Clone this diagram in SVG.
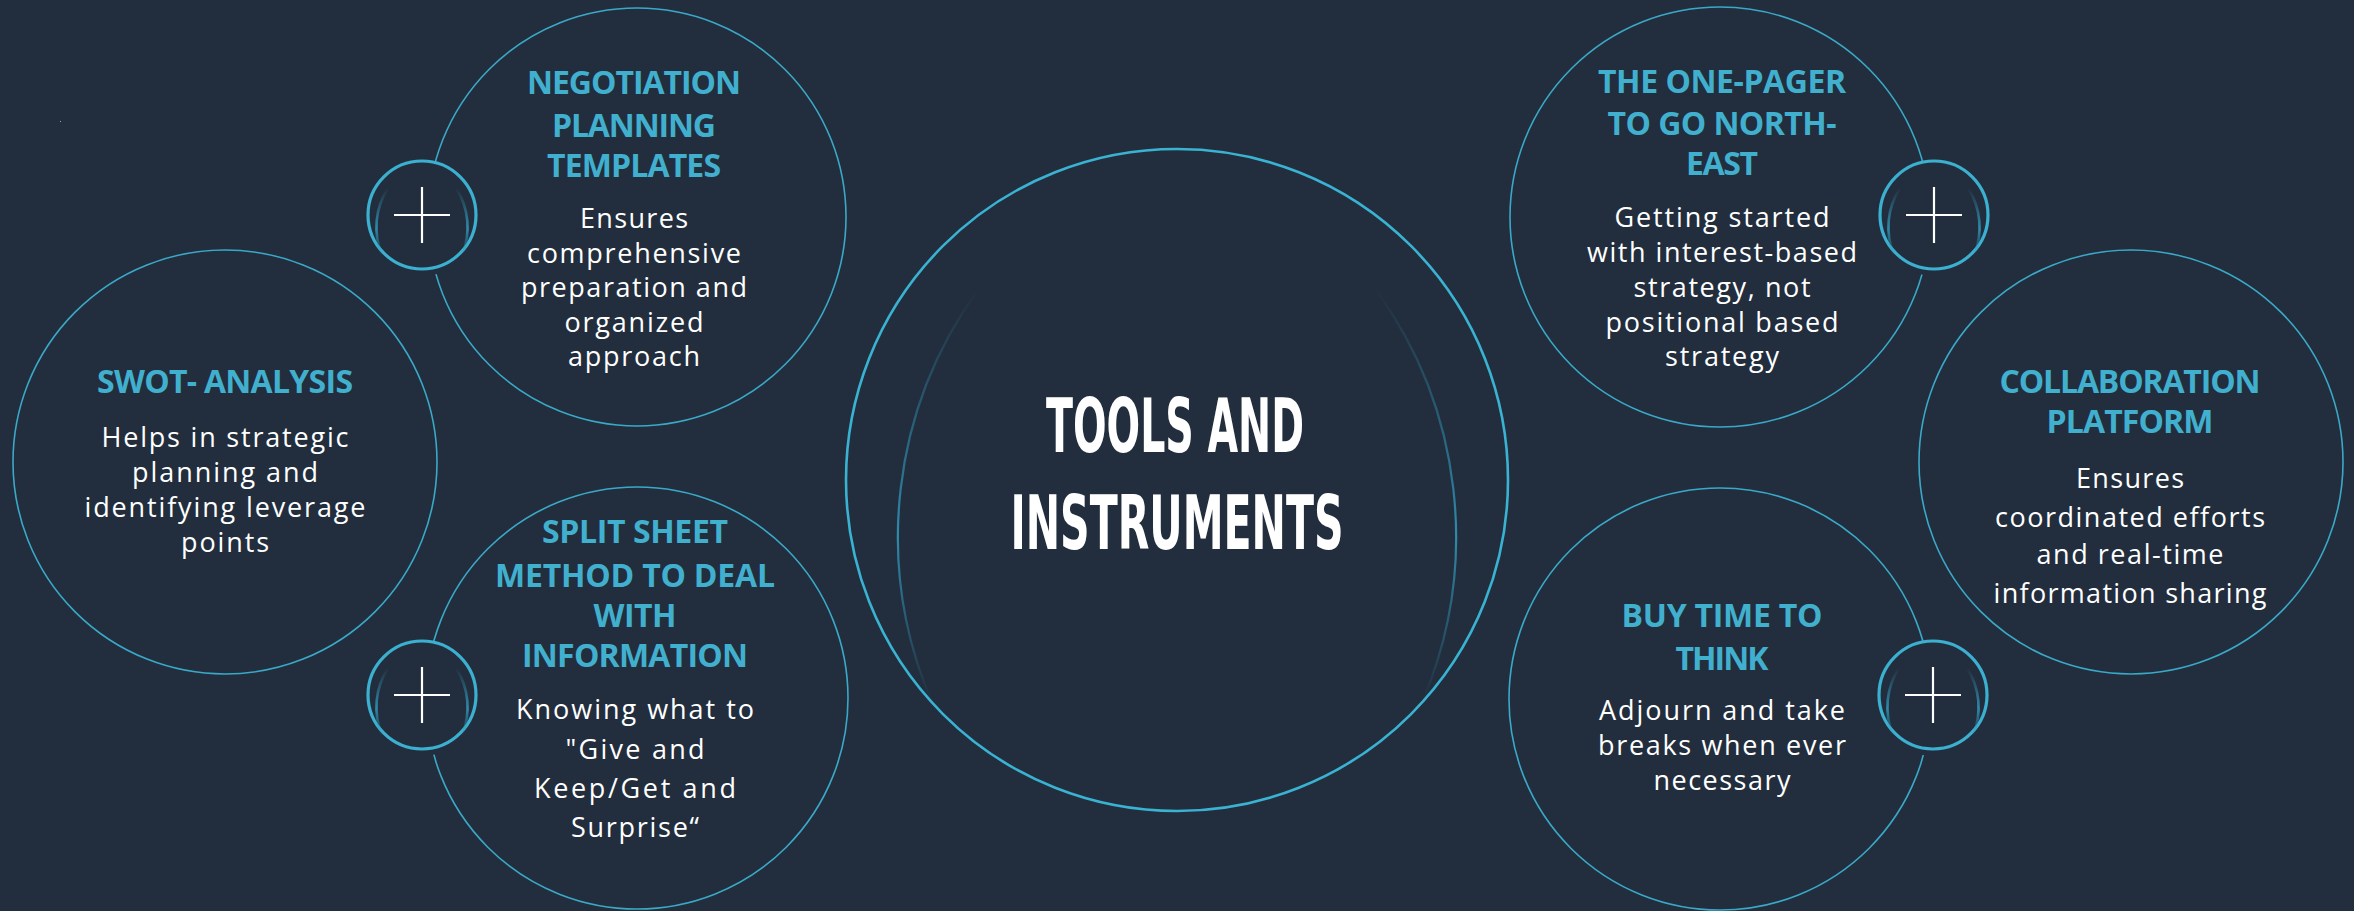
<svg xmlns="http://www.w3.org/2000/svg" width="2354" height="911" viewBox="0 0 2354 911">
  <defs>
    <style>
      .bg { fill: #222e3d; }
      .node-ring { fill: #222e3d; stroke: #3aa9c8; stroke-width: 1.6; }
      .hub-ring { fill: #222e3d; stroke: #3ab2d2; stroke-width: 2.6; }
      .hub-glow { fill: none; stroke: url(#fade); stroke-width: 2.2; }
      .plus-mask { fill: #222e3d; }
      .plus-ring { fill: #222e3d; stroke: #3cb0d0; stroke-width: 3.2; }
      .plus-glow { fill: none; stroke: url(#fade); stroke-width: 2.6; }
      .plus-cross { stroke: #ffffff; stroke-width: 2.2; }
      .title { font-family: "Open Sans", "Liberation Sans", sans-serif; font-weight: 700; font-size: 32px; fill: #41b0cf; text-anchor: middle; }
      .body { font-family: "Open Sans", Lato, "Liberation Sans", sans-serif; font-weight: 400; font-size: 27px; fill: #ffffff; text-anchor: middle; font-variant-ligatures: none; }
      .hub-title { font-family: "DejaVu Sans Condensed", "DejaVu Sans", sans-serif; font-weight: 700; font-size: 75px; fill: #ffffff; text-anchor: middle; }
    </style>
    <linearGradient id="fade" x1="0" y1="0" x2="0" y2="1">
      <stop offset="0" stop-color="#2f8fb0" stop-opacity="0"/>
      <stop offset="0.6" stop-color="#2f8fb0" stop-opacity="0.95"/>
      <stop offset="1" stop-color="#2f8fb0" stop-opacity="0"/>
    </linearGradient>
    <!-- plus badge, drawn around (0,0) -->
    <g id="plus-badge">
      <circle class="plus-mask" cx="0" cy="3" r="58"/>
      <circle class="plus-ring" cx="0" cy="0" r="54"/>
      <path class="plus-glow" d="M -34 -27 A 72 72 0 0 0 -40 40"/>
      <path class="plus-glow" d="M 34 -27 A 72 72 0 0 1 40 40"/>
      <line class="plus-cross" x1="-28" y1="0" x2="28" y2="0"/>
      <line class="plus-cross" x1="0" y1="-28" x2="0" y2="28"/>
    </g>
  </defs>

  <rect class="bg" x="0" y="0" width="2354" height="911"/>
  <rect x="60" y="121" width="1" height="1" fill="#9aa3ad"/>

  <!-- no connectors between the bubbles; group kept for structure -->
  <g id="connectors"></g>

  <!-- central hub -->
  <g id="hub">
    <circle class="hub-ring" cx="1177" cy="480" r="331"/>
    <path class="hub-glow" d="M 978 290 A 420 420 0 0 0 931 700"/>
    <path class="hub-glow" d="M 1376 290 A 420 420 0 0 1 1423 700"/>
    <text class="hub-title" x="1175" y="452" textLength="258" lengthAdjust="spacingAndGlyphs">TOOLS AND</text>
    <text class="hub-title" x="1177" y="549" textLength="333" lengthAdjust="spacingAndGlyphs">INSTRUMENTS</text>
  </g>

  <!-- SWOT -->
  <g id="swot">
    <circle class="node-ring" cx="225" cy="462" r="212"/>
    <text class="title" x="225" y="393" textLength="256" lengthAdjust="spacing">SWOT- ANALYSIS</text>
    <text class="body" x="225" y="447" textLength="247" lengthAdjust="spacing">Helps in strategic</text>
    <text class="body" x="225" y="482" textLength="186" lengthAdjust="spacing">planning and</text>
    <text class="body" x="225" y="517" textLength="281" lengthAdjust="spacing">identifying leverage</text>
    <text class="body" x="225" y="552" textLength="88" lengthAdjust="spacing">points</text>
  </g>

  <!-- negotiation planning templates -->
  <g id="negotiation-templates">
    <circle class="node-ring" cx="637" cy="217" r="209"/>
    <use href="#plus-badge" x="422" y="215"/>
    <text class="title" x="634" y="94" textLength="214" lengthAdjust="spacing">NEGOTIATION</text>
    <text class="title" x="634" y="137" textLength="164" lengthAdjust="spacing">PLANNING</text>
    <text class="title" x="634" y="177" textLength="174" lengthAdjust="spacing">TEMPLATES</text>
    <text class="body" x="634" y="228" textLength="108" lengthAdjust="spacing">Ensures</text>
    <text class="body" x="634" y="263" textLength="214" lengthAdjust="spacing">comprehensive</text>
    <text class="body" x="634" y="297" textLength="226" lengthAdjust="spacing">preparation and</text>
    <text class="body" x="634" y="332" textLength="139" lengthAdjust="spacing">organized</text>
    <text class="body" x="634" y="366" textLength="132" lengthAdjust="spacing">approach</text>
  </g>

  <!-- split sheet method -->
  <g id="split-sheet">
    <circle class="node-ring" cx="637" cy="698" r="211"/>
    <use href="#plus-badge" x="422" y="695"/>
    <text class="title" x="635" y="543" textLength="186" lengthAdjust="spacing">SPLIT SHEET</text>
    <text class="title" x="635" y="587" textLength="280" lengthAdjust="spacing">METHOD TO DEAL</text>
    <text class="title" x="635" y="627" textLength="83" lengthAdjust="spacing">WITH</text>
    <text class="title" x="635" y="667" textLength="226" lengthAdjust="spacing">INFORMATION</text>
    <text class="body" x="635" y="719" textLength="238" lengthAdjust="spacing">Knowing what to</text>
    <text class="body" x="635" y="759" textLength="139" lengthAdjust="spacing">"Give and</text>
    <text class="body" x="635" y="798" textLength="202" lengthAdjust="spacing">Keep/Get and</text>
    <text class="body" x="635" y="837" textLength="128" lengthAdjust="spacing">Surprise“</text>
  </g>

  <!-- one-pager -->
  <g id="one-pager">
    <circle class="node-ring" cx="1720" cy="217" r="210"/>
    <use href="#plus-badge" x="1934" y="215"/>
    <text class="title" x="1722" y="93" textLength="248" lengthAdjust="spacing">THE ONE-PAGER</text>
    <text class="title" x="1722" y="135" textLength="229" lengthAdjust="spacing">TO GO NORTH-</text>
    <text class="title" x="1722" y="175" textLength="72" lengthAdjust="spacing">EAST</text>
    <text class="body" x="1722" y="227" textLength="215" lengthAdjust="spacing">Getting started</text>
    <text class="body" x="1722" y="262" textLength="270" lengthAdjust="spacing">with interest-based</text>
    <text class="body" x="1722" y="296.5" textLength="177" lengthAdjust="spacing">strategy, not</text>
    <text class="body" x="1722" y="331.5" textLength="233" lengthAdjust="spacing">positional based</text>
    <text class="body" x="1722" y="366" textLength="114" lengthAdjust="spacing">strategy</text>
  </g>

  <!-- buy time to think -->
  <g id="buy-time">
    <circle class="node-ring" cx="1720" cy="699" r="211"/>
    <use href="#plus-badge" x="1933" y="695"/>
    <text class="title" x="1722" y="627" textLength="201" lengthAdjust="spacing">BUY TIME TO</text>
    <text class="title" x="1722" y="670" textLength="93" lengthAdjust="spacing">THINK</text>
    <text class="body" x="1722" y="720" textLength="246" lengthAdjust="spacing">Adjourn and take</text>
    <text class="body" x="1722" y="755" textLength="248" lengthAdjust="spacing">breaks when ever</text>
    <text class="body" x="1722" y="790" textLength="137" lengthAdjust="spacing">necessary</text>
  </g>

  <!-- collaboration platform -->
  <g id="collaboration">
    <circle class="node-ring" cx="2131" cy="462" r="212"/>
    <text class="title" x="2130" y="393" textLength="261" lengthAdjust="spacing">COLLABORATION</text>
    <text class="title" x="2130" y="433" textLength="167" lengthAdjust="spacing">PLATFORM</text>
    <text class="body" x="2130" y="488" textLength="108" lengthAdjust="spacing">Ensures</text>
    <text class="body" x="2130" y="527" textLength="270" lengthAdjust="spacing">coordinated efforts</text>
    <text class="body" x="2130" y="564" textLength="187" lengthAdjust="spacing">and real-time</text>
    <text class="body" x="2130" y="603" textLength="273" lengthAdjust="spacing">information sharing</text>
  </g>
</svg>
